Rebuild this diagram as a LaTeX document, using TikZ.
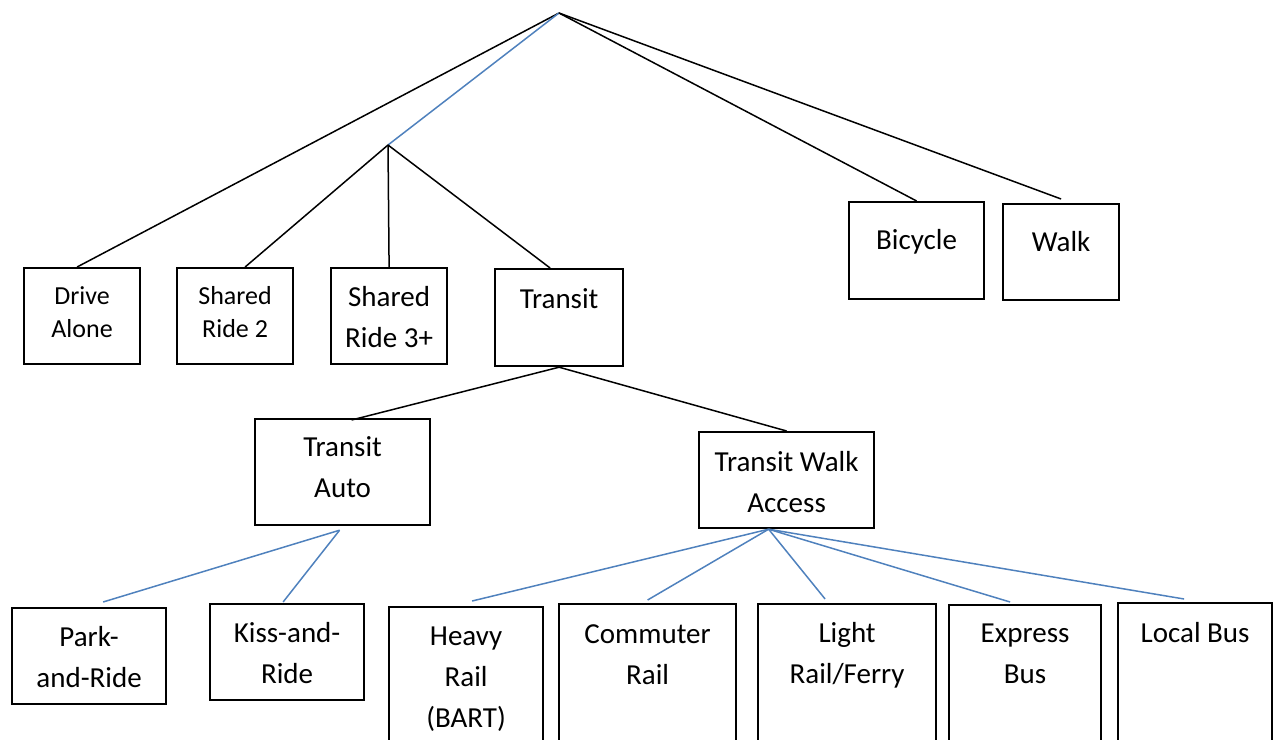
\documentclass[tikz,border=0pt]{standalone}
\usepackage{fontspec}
\setmainfont{Carlito}
\usepackage{tikz}
\usetikzlibrary{positioning}
\definecolor{linkblue}{HTML}{4F81BD}
\newcommand{\bigtext}{\fontsize{29}{41}\selectfont}
\newcommand{\smalltext}{\fontsize{26}{33}\selectfont}
\tikzstyle{box} = [rectangle, draw = black, line width = 2.2, anchor = north
  west, inner sep = 0]
\tikzstyle{big} = [font = \bigtext, align = center, inner sep = 0, anchor =
  north, execute at begin node = \strut]
\tikzstyle{small} = [font = \smalltext, align = center, inner sep = 0, anchor =
  north, execute at begin node = \strut]
\tikzstyle{link} = [draw = black, line width = 1.5]
\tikzstyle{sublink} = [draw = linkblue, line width = 1.5]

\begin{document}
\begin{tikzpicture}[x = 1pt, y = -1pt]
      \useasboundingbox (0, 0) rectangle (1273, 739);
      \clip (0, 0) rectangle (1273, 739);
      \coordinate (root) at (559, 13);
      \coordinate (shared) at (388, 145);
      % level 1
      \node [box, minimum width = 116, minimum height = 96] (da) at (23, 267) {};
      \node [box, minimum width = 116, minimum height = 96] (sr2) at (176, 267) {};
      \node [box, minimum width = 116, minimum height = 96] (sr3) at (330, 267) {};
      \node [box, minimum width = 128, minimum height = 97] (transit) at (494, 268) {};
      \node [box, minimum width = 135, minimum height = 97] (bike) at (848, 201) {};
      \node [box, minimum width = 116, minimum height = 96] (walk) at (1002, 203) {};
      \node [small] (da-t) at ([yshift = -19]da.north) {Drive\\Alone};
      \node [small] (sr2-t) at ([yshift = -19]sr2.north) {Shared\\Ride 2};
      \node [big] (sr3-t) at ([yshift = -19]sr3.north) {Shared\\Ride 3+};
      \node [big] (transit-t) at ([yshift = -12]transit.north) {Transit};
      \node [big] (bike-t) at ([yshift = -20]bike.north) {Bicycle};
      \node [big] (walk-t) at ([yshift = -20]walk.north) {Walk};
      % level 2
      \node [box, minimum width = 175, minimum height = 106] (tauto) at (254, 418) {};
      \node [box, minimum width = 175, minimum height = 96] (twa) at (698, 431) {};
      \node [big] (tauto-t) at ([yshift = -18]tauto.north) {Transit\\Auto};
      \node [big] (twa-t) at ([yshift = -20]twa.north) {Transit Walk\\Access};
      % level 3
      \node [box, minimum width = 154, minimum height = 96] (park) at (11, 607) {};
      \node [box, minimum width = 154, minimum height = 96] (kiss) at (209, 603) {};
      \node [box, minimum width = 154, minimum height = 160] (heavy) at (388, 606) {};
      \node [box, minimum width = 177, minimum height = 160] (comm) at (558, 603) {};
      \node [box, minimum width = 178, minimum height = 160] (light) at (757, 603) {};
      \node [box, minimum width = 152, minimum height = 160] (express) at (948, 604) {};
      \node [box, minimum width = 154, minimum height = 160] (local) at (1117, 602) {};
      \node [big] (park-t) at ([yshift = -19]park.north) {Park-\\and-Ride};
      \node [big] (kiss-t) at ([yshift = -19]kiss.north) {Kiss-and-\\Ride};
      \node [big] (heavy-t) at ([yshift = -21]heavy.north) {Heavy\\Rail\\(BART)};
      \node [big] (comm-t) at ([yshift = -21]comm.north) {Commuter\\Rail};
      \node [big] (light-t) at ([yshift = -19]light.north) {Light\\Rail/Ferry};
      \node [big] (express-t) at ([yshift = -20]express.north) {Express\\Bus};
      \node [big] (local-t) at ([yshift = -12]local.north) {Local Bus};

      \draw [link] (root) -- ([xshift = -5]da.north);
      \draw [sublink] (root) -- (shared);
      \draw [link] (root) -- (bike.north);
      \draw [link] (root) -- ([yshift = 4]walk.north);
      \draw [link] (shared) -- ([xshift = 10]sr2.north);
      \draw [link] (shared) -- (sr3.north);
      \draw [link] (shared) -- ([xshift = -9]transit.north);
      \draw [link] (transit.south) -- ([xshift = 9, yshift = -2]tauto.north);
      \draw [link] (transit.south) -- (twa.north);
      \draw [sublink] ([xshift = -3, yshift = -4]tauto.south) -- ([xshift = 14, yshift = 5]park.north);
      \draw [sublink] ([xshift = -3, yshift = -4]tauto.south) -- ([xshift = -4, yshift = 1]kiss.north);
      \draw [sublink] ([xshift = -18]twa.south) -- ([xshift = 6, yshift = 5]heavy.north);
      \draw [sublink] ([xshift = -18]twa.south) -- ([yshift = 3]comm.north);
      \draw [sublink] ([xshift = -18]twa.south) -- ([xshift = -22, yshift = 4]light.north);
      \draw [sublink] ([xshift = -18]twa.south) -- ([xshift = -15, yshift = 2]express.north);
      \draw [sublink] ([xshift = -18]twa.south) -- ([xshift = -11, yshift = 3]local.north);
    \end{tikzpicture}
\end{document}
